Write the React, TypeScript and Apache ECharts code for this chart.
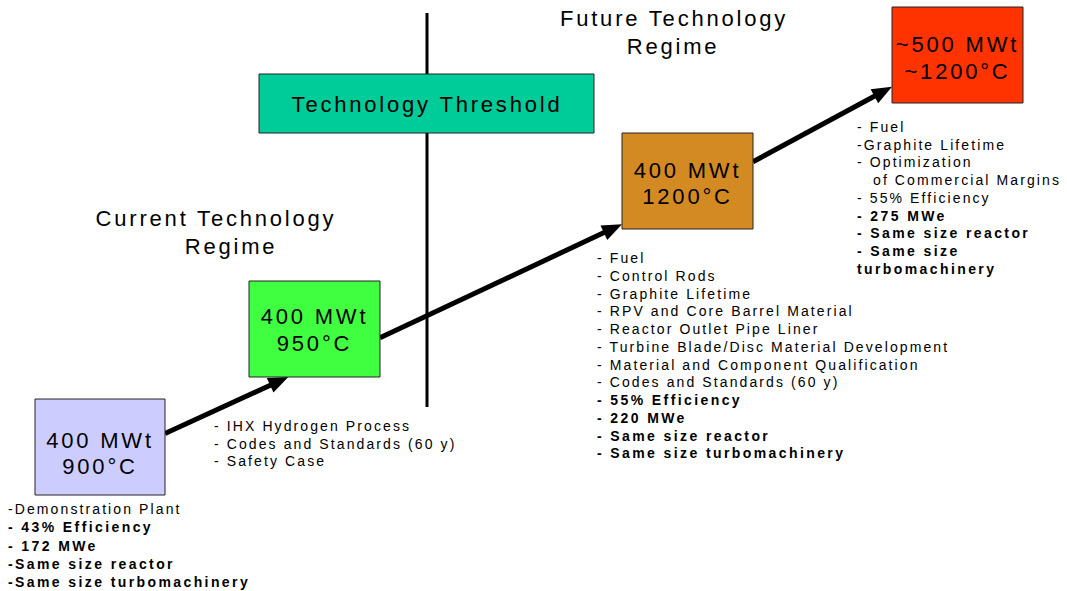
import React, { useEffect, useRef } from "react";
import * as echarts from "echarts";

// ---------- content ----------
const capacities = ["400 MWt", "400 MWt", "400 MWt", "~500 MWt"];
const temperatures = ["900°C", "950°C", "1200°C", "~1200°C"];

const notesStage1: [string, boolean][] = [
  ["-Demonstration Plant", false],
  ["- 43% Efficiency", true],
  ["- 172 MWe", true],
  ["-Same size reactor", true],
  ["-Same size turbomachinery", true],
];
const notesStage2: [string, boolean][] = [
  ["- IHX Hydrogen Process", false],
  ["- Codes and Standards (60 y)", false],
  ["- Safety Case", false],
];
const notesStage3: [string, boolean][] = [
  ["- Fuel", false],
  ["- Control Rods", false],
  ["- Graphite Lifetime", false],
  ["- RPV and Core Barrel Material", false],
  ["- Reactor Outlet Pipe Liner", false],
  ["- Turbine Blade/Disc Material Development", false],
  ["- Material and Component Qualification", false],
  ["- Codes and Standards (60 y)", false],
  ["- 55% Efficiency", true],
  ["- 220 MWe", true],
  ["- Same size reactor", true],
  ["- Same size turbomachinery", true],
];
const notesStage4: [string, boolean][] = [
  ["- Fuel", false],
  ["-Graphite Lifetime", false],
  ["- Optimization", false],
  ["  of Commercial Margins", false],
  ["- 55% Efficiency", false],
  ["- 275 MWe", true],
  ["- Same size reactor", true],
  ["- Same size", true],
  ["turbomachinery", true],
];
const regimeCurrent = ["Current Technology", "Regime"];
const regimeFuture = ["Future Technology", "Regime"];
const thresholdLabel = "Technology Threshold";

// ---------- layout ----------
const FONT = "'Liberation Sans', Arial, sans-serif";
const BIG = 22;
const SMALL = 14;
const boxes = [
  { x: 35, y: 399, w: 130, h: 96, fill: "#CCCCFF", l1: 440, l2: 466 },
  { x: 249, y: 281, w: 131, h: 96, fill: "#40FF40", l1: 316, l2: 343 },
  { x: 622, y: 133, w: 131, h: 96, fill: "#D38A22", l1: 170, l2: 196 },
  { x: 892, y: 7, w: 131, h: 96, fill: "#FF3300", l1: 44, l2: 71 },
];
// arrow anchors: fraction along source right edge, point on target (fx, fy)
const arrowAnchors = [
  { fromFy: 0.36, toFx: 0.3, toFy: 1.0 },
  { fromFy: 0.59, toFx: 0.0, toFy: 0.95 },
  { fromFy: 0.3, toFx: 0.0, toFy: 0.83 },
];
const notesLayout = [
  { x: 8, y0: 509, dy: 18.3, list: notesStage1 },
  { x: 214, y0: 426, dy: 17.6, list: notesStage2 },
  { x: 597, y0: 258, dy: 17.75, list: notesStage3 },
  { x: 857, y0: 127, dy: 17.7, list: notesStage4 },
];

function txt(text: string, x: number, y: number, size: number, align = "center", weight = "normal") {
  return {
    type: "text",
    x,
    y,
    silent: true,
    style: {
      text,
      fill: "#000",
      fontSize: size,
      fontFamily: FONT,
      fontWeight: weight,
      align,
      verticalAlign: "middle",
      textAlign: align,
      textVerticalAlign: "middle",
    },
  };
}

function arrow(x1: number, y1: number, x2: number, y2: number) {
  const dx = x2 - x1;
  const dy = y2 - y1;
  const len = Math.sqrt(dx * dx + dy * dy);
  const ux = dx / len;
  const uy = dy / len;
  const headLen = 20;
  const headHalf = 8;
  const bx = x2 - ux * headLen;
  const by = y2 - uy * headLen;
  return [
    {
      type: "line",
      shape: { x1, y1, x2: bx + ux * 2, y2: by + uy * 2 },
      style: { stroke: "#000", lineWidth: 5 },
    },
    {
      type: "polygon",
      shape: {
        points: [
          [x2, y2],
          [bx - uy * headHalf, by + ux * headHalf],
          [bx + uy * headHalf, by - ux * headHalf],
        ],
      },
      style: { fill: "#000" },
    },
  ];
}

function applySpacing(root: HTMLElement | null) {
  if (!root) return;
  root.querySelectorAll("text").forEach((el) => {
    const cs = getComputedStyle(el);
    const fs = parseFloat(cs.fontSize || "14");
    const w = cs.fontWeight;
    const bold = w === "bold" || parseInt(w, 10) >= 600;
    (el as SVGTextElement).style.letterSpacing = fs >= 18 ? "2.8px" : bold ? "2.4px" : "2.1px";
  });
}

export default function App() {
  const ref = useRef<HTMLDivElement>(null);
  useEffect(() => {
    if (!ref.current) return;
    const chart = echarts.init(ref.current, undefined, { renderer: "svg" });
    const els: any[] = [];

    // threshold vertical line
    els.push({
      type: "line",
      shape: { x1: 427, y1: 13, x2: 427, y2: 407 },
      style: { stroke: "#000", lineWidth: 3 },
    });
    // threshold box
    els.push({
      type: "rect",
      shape: { x: 259, y: 74, width: 335, height: 59 },
      style: { fill: "#00CC99", stroke: "#222", lineWidth: 1 },
    });
    els.push(txt(thresholdLabel, 427, 104, BIG));

    // regime titles
    els.push(txt(regimeCurrent[0], 216, 218, BIG));
    els.push(txt(regimeCurrent[1], 231, 246, BIG));
    els.push(txt(regimeFuture[0], 674, 18, BIG));
    els.push(txt(regimeFuture[1], 673, 46, BIG));

    // arrows
    arrowAnchors.forEach((a, i) => {
      const s = boxes[i];
      const t = boxes[i + 1];
      els.push(
        ...arrow(s.x + s.w, s.y + s.h * a.fromFy, t.x + t.w * a.toFx, t.y + t.h * a.toFy)
      );
    });

    // stage boxes
    boxes.forEach((b, i) => {
      els.push({
        type: "rect",
        shape: { x: b.x, y: b.y, width: b.w, height: b.h },
        style: { fill: b.fill, stroke: "#222", lineWidth: 1 },
      });
      els.push(txt(capacities[i], b.x + b.w / 2, b.l1, BIG));
      els.push(txt(temperatures[i], b.x + b.w / 2, b.l2, BIG));
    });

    // notes
    notesLayout.forEach((n) => {
      n.list.forEach(([line, bold], j) => {
        const indent = line.startsWith(" ") ? 16 : 0;
        els.push(txt(line.trim(), n.x + indent, n.y0 + j * n.dy, SMALL, "left", bold ? "bold" : "normal"));
      });
    });

    chart.setOption({
      animation: false,
      backgroundColor: "#fff",
      graphic: { elements: els },
    });
    const root = ref.current;
    applySpacing(root);
    chart.on("finished", () => applySpacing(root));
    const t1 = setTimeout(() => applySpacing(root), 0);
    const t2 = setTimeout(() => applySpacing(root), 100);
    return () => {
      clearTimeout(t1);
      clearTimeout(t2);
      chart.dispose();
    };
  }, []);
  return (
    <div
      ref={ref}
      style={{
        position: "fixed",
        left: 0,
        top: 0,
        width: 1067,
        height: 591,
        letterSpacing: "2.1px",
        background: "#fff",
      }}
    />
  );
}
